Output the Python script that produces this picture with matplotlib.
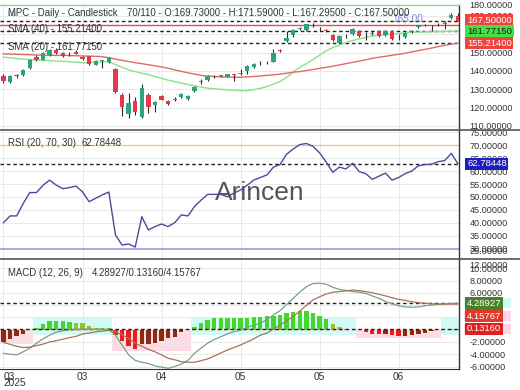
import matplotlib
matplotlib.use('Agg')
import matplotlib.pyplot as plt
import numpy as np
from matplotlib.patches import Rectangle
from matplotlib.lines import Line2D
from matplotlib.ticker import FormatStrFormatter

plt.rcParams['font.family'] = ['Liberation Sans', 'DejaVu Sans']

# ---------------- data ----------------
opens = [137.4, 134.0, 137.6, 137.8, 141.5, 147.6, 146.2, 148.6, 151.2, 150.0,
         149.4, 150.6, 147.8, 148.0, 143.4, 145.6, 145.0, 141.0, 126.9, 116.4,
         123.8, 115.1, 126.9, 121.5, 126.5, 123.8, 124.8, 125.7, 124.8, 129.1,
         134.0, 135.1, 137.2, 137.4, 136.9, 137.9, 138.6, 140.2, 142.0, 144.3,
         145.0, 145.1, 151.2, 156.4, 159.6, 163.0, 162.4, 165.2, 163.0, 162.1,
         159.6, 155.4, 159.4, 160.0, 162.0, 160.5, 160.4, 162.0, 159.6, 162.0,
         159.5, 158.7, 161.6, 164.2, 165.2, 164.3, 165.5, 166.2, 168.8, 169.73]
highs = [138.2, 138.0, 138.6, 141.2, 146.5, 148.8, 150.2, 152.0, 152.6, 150.6,
         150.4, 151.2, 148.2, 148.4, 145.8, 146.0, 147.6, 141.4, 127.8, 127.8,
         126.0, 132.7, 127.8, 123.8, 127.0, 124.2, 125.6, 128.0, 127.0, 131.8,
         135.5, 137.8, 138.0, 138.0, 138.6, 138.2, 141.0, 143.0, 144.2, 145.2,
         145.6, 151.8, 151.8, 161.6, 163.0, 164.0, 165.8, 166.0, 163.8, 162.8,
         160.0, 159.6, 160.4, 163.2, 162.4, 161.0, 162.0, 162.4, 162.4, 162.4,
         160.0, 161.2, 162.4, 165.2, 165.8, 165.2, 166.4, 167.0, 171.5, 171.59]
lows = [133.5, 133.6, 136.3, 137.4, 141.2, 145.6, 145.8, 148.2, 149.4, 147.6,
        148.0, 149.0, 146.2, 143.4, 143.0, 141.8, 144.6, 128.0, 115.6, 114.2,
        116.0, 114.2, 116.9, 117.4, 124.0, 121.6, 123.6, 125.4, 124.2, 128.6,
        132.8, 134.8, 136.4, 136.8, 136.6, 134.4, 137.6, 138.4, 141.6, 143.4,
        144.0, 144.8, 150.2, 156.0, 158.8, 162.4, 162.0, 164.2, 162.0, 161.0,
        156.4, 155.0, 157.8, 159.6, 158.6, 156.9, 159.8, 158.6, 159.2, 156.8,
        156.9, 158.2, 160.6, 163.4, 164.4, 162.0, 164.8, 163.0, 168.4, 167.295]
closes = [134.3, 137.4, 137.2, 140.6, 146.0, 146.0, 149.6, 151.4, 149.8, 148.0,
          149.0, 149.4, 146.6, 143.8, 145.4, 145.7, 147.0, 128.4, 120.5, 122.4,
          117.8, 130.6, 120.5, 123.3, 124.4, 122.2, 124.3, 127.5, 126.4, 131.4,
          134.3, 137.4, 137.4, 137.5, 138.2, 137.8, 138.7, 142.6, 143.8, 144.4,
          144.7, 150.0, 150.8, 158.2, 162.2, 163.4, 165.4, 165.0, 162.7, 162.0,
          156.9, 159.1, 159.7, 162.8, 159.1, 160.7, 160.8, 159.1, 162.0, 157.3,
          159.7, 160.6, 161.4, 164.4, 165.0, 164.7, 165.7, 165.8, 170.6, 167.5]

sma20 = [147.5, 147.2, 146.8, 146.5, 146.2, 146.0, 145.8, 145.6, 145.4, 145.2,
         145.1, 144.8, 144.5, 144.6, 144.8, 145.0, 145.0, 143.5, 142.0, 140.6,
         139.6, 138.8, 138.0, 137.0, 136.0, 135.0, 134.2, 133.4, 132.6, 131.9,
         131.2, 130.6, 130.3, 130.0, 129.7, 129.5, 129.3, 129.3, 129.8, 130.5,
         131.5, 132.8, 134.3, 136.5, 139.5, 142.0, 144.0, 146.2, 148.6, 151.0,
         152.8, 154.2, 155.5, 156.6, 157.5, 158.3, 159.1, 159.5, 159.8, 160.1,
         160.4, 160.9, 161.1, 161.2, 161.3, 161.4, 161.5, 161.6, 161.7, 161.7715]
sma40 = [149.3, 149.2, 149.1, 149.0, 148.9, 148.7, 148.6, 148.6, 148.5, 148.5,
         148.4, 148.3, 148.2, 148.1, 148.0, 147.8, 147.2, 146.5, 145.8, 145.2,
         144.5, 144.0, 143.4, 142.8, 142.2, 141.5, 140.6, 139.8, 139.0, 138.3,
         137.6, 137.2, 137.0, 136.8, 136.7, 136.6, 136.6, 136.8, 137.0, 137.3,
         137.6, 137.9, 138.3, 138.8, 139.3, 139.7, 140.2, 140.8, 141.4, 142.0,
         142.6, 143.3, 144.0, 144.7, 145.4, 146.1, 146.9, 147.5, 148.0, 148.6,
         149.1, 149.7, 150.4, 151.1, 151.8, 152.5, 153.3, 154.0, 154.6, 155.214]

rsi = [40.1, 42.7, 42.7, 47.5, 51.7, 51.7, 54.5, 56.5, 54.6, 53.2,
       53.6, 54.2, 52.0, 48.2, 49.5, 50.8, 51.9, 35.4, 31.5, 31.9,
       30.7, 42.4, 37.3, 38.6, 39.6, 38.6, 40.1, 43.1, 42.7, 46.3,
       48.8, 51.0, 51.0, 51.0, 50.1, 51.5, 52.7, 54.5, 56.5, 57.5,
       58.5, 61.5, 62.5, 66.5, 68.5, 70.2, 70.6, 69.5, 67.0, 63.5,
       59.5, 61.5, 60.8, 63.0, 59.8, 59.0, 56.8, 58.0, 59.2, 56.5,
       57.5, 59.0, 60.0, 62.0, 62.5, 62.6, 63.6, 64.0, 66.8, 62.78448]

macd = [-3.85, -4.0, -4.1, -3.6, -3.0, -2.2, -1.5, -0.9, -0.4, -0.2,
        -0.05, 0.0, 0.05, 0.05, 0.05, 0.02, 0.0, -0.9, -2.5, -4.1,
        -5.0, -5.3, -5.5, -5.9, -6.1, -6.3, -6.0, -5.6, -5.0, -3.85,
        -3.0, -2.2, -1.6, -1.15, -0.7, -0.3, -0.1, 0.4, 0.7, 1.1,
        1.6, 2.4, 3.1, 4.1, 5.1, 6.1, 7.0, 7.5, 7.55, 7.4,
        6.9, 6.55, 6.4, 6.2, 6.1, 5.9, 5.5, 5.1, 4.6, 4.2,
        3.9, 3.7, 3.65, 3.7, 3.9, 4.0, 4.1, 4.2, 4.25, 4.28927]
signal = [-2.05, -2.4, -2.7, -2.9, -2.85, -2.6, -2.35, -2.0, -1.8, -1.55,
          -1.3, -1.1, -0.7, -0.55, -0.35, -0.25, -0.1, -0.3, -0.85, -1.4,
          -2.2, -2.7, -3.2, -3.6, -4.1, -4.65, -4.9, -5.2, -5.3, -5.3,
          -5.05, -4.75, -4.3, -3.8, -3.3, -2.9, -2.5, -2.0, -1.5, -0.9,
          -0.55, 0.1, 0.75, 1.45, 2.15, 3.05, 3.95, 4.85, 5.35, 5.8,
          6.1, 6.2, 6.3, 6.45, 6.35, 6.2, 6.0, 5.75, 5.5, 5.2,
          4.95, 4.75, 4.55, 4.4, 4.3, 4.2, 4.18, 4.17, 4.16, 4.15767]
hist = [-2.05, -1.5, -1.1, -0.7, -0.1, 0.3, 0.9, 1.4, 1.45, 1.4,
        1.3, 1.15, 1.05, 0.65, 0.3, 0.3, 0.3, -0.9, -1.85, -2.6,
        -3.15, -2.4, -2.4, -2.2, -1.85, -1.4, -1.15, -0.4, -0.1, 0.5,
        1.05, 1.6, 1.95, 1.95, 1.95, 1.95, 1.85, 1.95, 2.0, 2.1,
        2.15, 2.2, 2.35, 2.65, 2.95, 3.05, 3.05, 2.65, 2.2, 1.7,
        1.0, 0.45, 0.15, 0.02, -0.1, -0.45, -0.65, -0.75, -0.65, -0.9,
        -1.1, -1.1, -0.9, -0.75, -0.5, -0.25, -0.1, 0.0, 0.1, 0.1316]

tick_idx = [0, 12, 24, 36, 48, 60]
tick_labels = ['03', '03', '04', '05', '05', '06']
year_label = '2025'

last_close = 167.5
alert_level = 165.0
rsi_last = 62.78448
macd_last, hist_last, signal_last = 4.28927, 0.13160, 4.15767

title_left = 'MPC - Daily - Candlestick'
title_right = '70/110 - O:169.73000 - H:171.59000 - L:167.29500 - C:167.50000'

# ---------------- figure ----------------
W, H = 520, 390
fig = plt.figure(figsize=(W / 100, H / 100), dpi=100)
fig.patch.set_facecolor('white')


def fx(px):
    return px / W


def fy(py):
    return 1 - py / H


RIGHT = 459
ax_p = fig.add_axes([0, fy(130), fx(RIGHT), (130 - 5) / H])
ax_r = fig.add_axes([0, fy(258), fx(RIGHT), (258 - 130) / H])
ax_m = fig.add_axes([0, fy(369), fx(RIGHT), (369 - 259) / H])

x = np.arange(len(closes))
TXT = '#333333'
GRID = '#e9e9e9'
FS = 6.6
LFS = 6.9

for ax in (ax_p, ax_r, ax_m):
    ax.set_xlim(-0.53, 69.17)
    ax.yaxis.tick_right()
    ax.yaxis.set_major_formatter(FormatStrFormatter('%.5f'))
    ax.tick_params(axis='y', length=0, pad=7.5, labelsize=FS, colors=TXT)
    ax.tick_params(axis='x', length=0, labelsize=7.3, colors=TXT, pad=2)
    ax.set_xticks(tick_idx)
    ax.grid(True, color=GRID, lw=0.7)
    ax.set_axisbelow(True)
    for s in ('left', 'top', 'bottom'):
        ax.spines[s].set_visible(False)
    ax.spines['right'].set_color('#333333')
    ax.spines['right'].set_linewidth(1.0)

ax_p.set_xticklabels([])
ax_r.set_xticklabels([])

# ---------- price panel ----------
GREEN = '#2aa57e'
RED = '#e5384e'
o = np.array(opens); c = np.array(closes)
up = c >= o
ax_p.vlines(x, lows, highs, color='#2d2d2d', lw=0.8, zorder=3)
ax_p.bar(x, np.maximum(np.abs(c - o), 0.3), bottom=np.minimum(o, c), width=0.66,
         color=np.where(up, GREEN, RED), linewidth=0, zorder=4)
ax_p.plot(x, sma20, color='#86e486', lw=1.0, zorder=2.5)
ax_p.plot(x, sma40, color='#e06a6a', lw=1.0, zorder=2.5)

DASH = (0, (2.6, 2.0))
for lv in (last_close, sma20[-1], sma40[-1]):
    ax_p.axhline(lv, color='#222222', lw=1.0, ls=DASH, zorder=2)
ax_p.axhline(alert_level, color='#e05050', lw=1.0, zorder=2)
ax_p.text(63.7, alert_level + 0.7, '165.00', color='#7a8ad6', fontsize=7.2,
          ha='right', va='bottom', zorder=5)
ax_p.set_ylim(107.8, 176.0)
ax_p.set_yticks([110, 120, 130, 140, 150, 160, 170])
ax_p.spines['top'].set_visible(True)
ax_p.spines['top'].set_color('#86d986')
ax_p.spines['top'].set_linewidth(1.0)

fig.text(fx(8), fy(13), title_left, fontsize=LFS, color=TXT, va='center')
fig.text(fx(127), fy(13), title_right, fontsize=LFS, color=TXT, va='center')
fig.text(fx(7), fy(14), 'LS', fontsize=5.5, color='#6f86d6', va='center', zorder=1)
fig.text(fx(8), fy(29.5), 'SMA (40) - 155.21400', fontsize=LFS, color=TXT, va='center')
fig.text(fx(8), fy(46.5), 'SMA (20) - 161.77150', fontsize=LFS, color=TXT, va='center')

# ---------- RSI panel ----------
ax_r.plot(x, rsi, color='#4d4a9c', lw=1.0, zorder=3)
ax_r.axhline(70, color='#f3c98a', lw=1.0, zorder=2)
ax_r.axhline(30, color='#b99ae8', lw=1.3, zorder=2)
ax_r.axhline(rsi_last, color='#222222', lw=1.0, ls=DASH, zorder=2)
ax_r.set_ylim(26.5, 75.8)
ax_r.set_yticks([30, 35, 40, 45, 50, 55, 60, 65, 70, 75])
ax_r.text(0.5, 0.505, 'Arincen', transform=fig.transFigure, fontsize=19,
          color='#555555', ha='center', va='center', zorder=1)
fig.text(fx(8), fy(143.5), 'RSI (20, 70, 30)', fontsize=LFS, color=TXT, va='center')
fig.text(fx(82), fy(143.5), '62.78448', fontsize=LFS, color=TXT, va='center')

# ---------- MACD panel ----------
h = np.array(hist)
hcol = []
for i, v in enumerate(h):
    prev = h[i - 1] if i > 0 else v
    if v >= 0:
        hcol.append('#9abf2c' if (v < prev and v < 1.2) else '#44d62c')
    else:
        hcol.append('#e8201c' if v < prev else '#8e2a12')

# pale bands behind histogram runs
sign = h >= 0
start = 0
for i in range(1, len(h) + 1):
    if i == len(h) or sign[i] != sign[start]:
        seg = h[start:i]
        if sign[start]:
            ax_m.add_patch(Rectangle((start - 0.5, -0.8), i - start, 2.8,
                                     color='#d2fbf6', lw=0, zorder=0.5))
        else:
            ax_m.add_patch(Rectangle((start - 0.5, seg.min() - 0.3), i - start,
                                     -seg.min() + 0.35, color='#ffdbe8', lw=0, zorder=0.5))
        start = i

ax_m.bar(x, h, width=0.66, color=hcol, linewidth=0, zorder=2)
ax_m.plot(x, macd, color='#789f8c', lw=0.9, zorder=3)
ax_m.plot(x, signal, color='#a6745c', lw=0.9, zorder=3)
ax_m.axhline(macd_last, color='#222222', lw=1.0, ls=DASH, zorder=2.6)
ax_m.axhline(hist_last, color='#222222', lw=1.0, ls=DASH, zorder=2.6)
ax_m.set_ylim(-6.4, 11.5)
ax_m.set_yticks([-6, -4, -2, 0, 2, 4, 6, 8, 10])
ax_m.set_xticklabels(tick_labels)
tl = ax_m.get_xticklabels()
tl[0].set_ha('left')
fig.text(fx(3), fy(383), year_label, fontsize=7.3, color=TXT, va='center')
fig.text(fx(469), fy(266), '12.00000', fontsize=FS, color=TXT, va='center')
fig.text(fx(469), fy(5), '180.00000', fontsize=FS, color=TXT, va='center')
fig.text(fx(469), fy(251), '25.00000', fontsize=FS, color=TXT, va='center')
fig.text(fx(8), fy(273.5), 'MACD (12, 26, 9)', fontsize=LFS, color=TXT, va='center')
fig.text(fx(92), fy(273.5), '4.28927/0.13160/4.15767', fontsize=LFS, color=TXT, va='center')

# ---------- value boxes on the right ----------
fig.canvas.draw()


def box(ax, val, text, bg, fg, dy_px=0, back=None):
    ypx = ax.transData.transform((0, val))[1] - dy_px
    yf = ypx / H
    if back is not None:
        fig.add_artist(Rectangle((fx(464), yf - 5 / H), fx(47), 10 / H,
                                 transform=fig.transFigure, color=back, lw=0, zorder=4))
    fig.text(fx(467), yf, text, fontsize=FS + 0.2, color=fg, va='center', ha='left',
             zorder=6, bbox=dict(boxstyle='square,pad=0.18', fc=bg, ec='none'))


box(ax_p, last_close, '167.50000', '#ee4340', 'white')
box(ax_p, sma20[-1], '161.77150', '#44e044', '#1a1a1a')
box(ax_p, sma40[-1], '155.21400', '#ee4340', 'white')
box(ax_r, rsi_last, '62.78448', '#1f1fbf', 'white')
box(ax_m, macd_last, '4.28927', '#4a7f2c', 'white', back='#d2fbf6')
box(ax_m, signal_last, '4.15767', '#e03a2a', 'white', dy_px=12, back='#ffd7e6')
box(ax_m, hist_last, '0.13160', '#e02020', 'white', back='#ffd7e6')

# separators
for yy in (130, 258.5):
    fig.add_artist(Line2D([0, 1], [fy(yy), fy(yy)], color='#555555', lw=1.2,
                          transform=fig.transFigure, zorder=7))
ax_m.spines['bottom'].set_visible(True)
ax_m.spines['bottom'].set_color('#333333')

fig.savefig('out.png', dpi=100)
